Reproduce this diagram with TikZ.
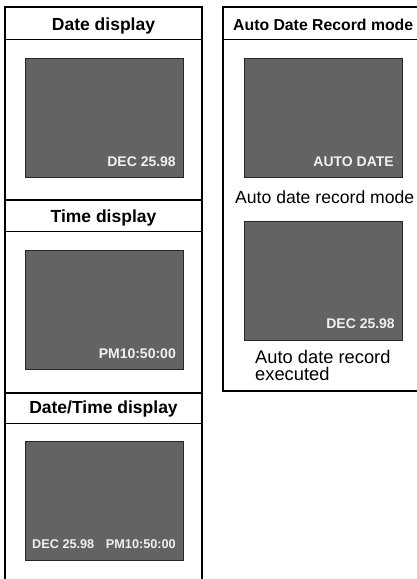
\documentclass[tikz,border=0pt]{standalone}
\usepackage{fontspec}
\setmainfont{Liberation Sans}
\begin{document}
\begin{tikzpicture}[x=1pt,y=-1pt,
  frame/.style={draw=black,line width=1.8pt},
  divider/.style={draw=black,line width=0.9pt},
  screen/.style={fill=scrgray,draw=black!85,line width=0.9pt},
  ttl/.style={font=\bfseries\fontsize{17.5}{20}\selectfont,inner sep=0pt,anchor=base},
  osd/.style={font=\bfseries\fontsize{14}{16}\selectfont,text=osdwhite,inner sep=0pt,anchor=base east},
  osdsmall/.style={font=\bfseries\fontsize{12.7}{15}\selectfont,text=osdwhite,inner sep=0pt},
  captext/.style={inner sep=0pt,anchor=base west,align=left}]
\definecolor{scrgray}{HTML}{636363}
\definecolor{osdwhite}{HTML}{F0F0F0}
\useasboundingbox[fill=white] (0,0) rectangle (417,579);
% ---- left column frame
\draw[frame] (5,582) -- (5,7) -- (202,7) -- (202,582);
\draw[frame] (5,200) -- (202,200);
\draw[frame] (5,393) -- (202,393);
\draw[divider] (5,39) -- (202,39);
\draw[divider] (5,231) -- (202,231);
\draw[divider] (5,423) -- (202,423);
% titles
\node[ttl] (t1) at (103.5,30.5) {Date display};
\node[ttl] (t2) at (103.5,222) {Time display};
\node[ttl] (t3) at (103.5,413) {Date/Time display};
% screens
\draw[screen] (25,58) rectangle (183,177);
\draw[screen] (25,250) rectangle (183,369);
\draw[screen] (25,441) rectangle (183,560);
\node[osd] (s1) at (176,166) {DEC 25.98};
\node[osd] (s2) at (176,358) {PM10:50:00};
\node[osdsmall,anchor=base west] (s3a) at (32,548) {DEC 25.98};
\node[osdsmall,anchor=base east] (s3b) at (176,548) {PM10:50:00};
% ---- right column frame
\draw[frame] (420,7) -- (223,7) -- (223,391) -- (420,391);
\draw[divider] (223,39) -- (420,39);
\node[ttl,font=\bfseries\fontsize{15.8}{18}\selectfont,anchor=base west] (t4) at (233,30.5) {Auto Date Record mode};
\draw[screen] (244,58) rectangle (402,177);
\draw[screen] (244,221) rectangle (402,340);
\node[osd] (s4) at (394,166) {AUTO DATE};
\node[osd] (s5) at (395,328) {DEC 25.98};
\node[captext,font=\fontsize{17.6}{17}\selectfont] (c1) at (235,203) {Auto date record mode};
\node[captext,font=\fontsize{18.3}{17}\selectfont] (c2) at (255,380) {Auto date record\\executed};
\end{tikzpicture}
\end{document}
